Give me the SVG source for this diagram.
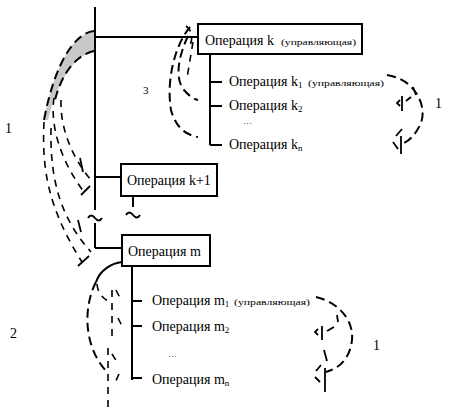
<svg xmlns="http://www.w3.org/2000/svg" width="450" height="408" viewBox="0 0 450 408">
<style>
.ln{stroke:#000;stroke-width:2;fill:none}
.box{fill:#fff;stroke:#000;stroke-width:2}
.t{font-family:"Liberation Serif","Times New Roman",serif;font-size:14px;fill:#000}
.s{font-family:"Liberation Serif","Times New Roman",serif;font-size:9px;fill:#000}
.sub{font-family:"Liberation Serif","Times New Roman",serif;font-size:9px;fill:#000}
.d{stroke:#000;stroke-width:2;fill:none;stroke-dasharray:9 5}
.d2{stroke:#000;stroke-width:1.6;fill:none;stroke-dasharray:7 6}
.sol{stroke:#000;stroke-width:2;fill:none}
.tk{stroke:#000;stroke-width:1.8;fill:none}
</style>
<rect width="450" height="408" fill="#fff"/>
<g id="connectors">
<path class="ln" d="M95,7 V210 M95,223 V248 M95,37 H198 M95,177 H121 M95,248 H122 M210,54 V145 M210,82 H222 M210,106 H222 M210,145 H222 M133,196 V207 M132,266 V380 M132,301 H142 M132,326 H142 M132,378 H142"/>
<path class="sol" d="M88,218 q3,-5 7,0 t7,0 M126,215 q3,-5 7,0 t7,0" stroke-width="1.8"/>
<path d="M94,31 C75,33 55,62 44,120 L48,120 C57,85 72,56 94,51 Z" fill="#c8c8c8"/>
<path class="d" d="M94,31 C75,33 55,62 44,120" stroke-dasharray="20 3 14 4"/>
<path class="d" d="M94,51 C72,56 60,80 55,100" stroke-dasharray="18 4"/>
<path class="d2" d="M54,98 C50,125 60,160 84,192"/>
<path class="d2" d="M61,100 C60,125 70,155 91,180"/>
<path class="tk" d="M80,158 L83,172 M81,195 L90,186"/>
<path class="d2" d="M44,122 C42,165 46,205 82,262"/>
<path class="d2" d="M51,128 C50,175 58,215 91,252"/>
<path class="tk" d="M78,220 L81,232 M78,266 L89,256"/>
<path class="d" d="M190,27 C175,45 166,80 171,110 C176,128 186,135 198,137" stroke-dasharray="10 4"/>
<path class="d" d="M188,36 C179,55 174,78 184,90 C189,96 194,99 198,100" stroke-dasharray="8 4"/>
<path class="d2" d="M193,42 L187,78"/>
<path class="d2" d="M186,26 C193,31 193,40 189,48"/>
<path class="d" d="M387,75 C418,80 428,110 420,125 C415,135 410,140 404,143" stroke-dasharray="12 4"/>
<path class="tk" d="M413,87 L416,95 M400,100 L397,103 L400,106 M402,96 V111 M406,101 L411,97 M401,136 V154 M396,136 L402,129 M393,142 L398,149"/>
<path class="d" d="M316,297 C338,302 354,320 352,340 C350,358 340,368 326,372" stroke-dasharray="12 4"/>
<path class="tk" d="M337,315 L338,322 M318,329 L315,332 L318,335 M322,326 V340 M327,331 L334,327 M324,350 L327,361 M316,371 L321,365 M315,377 L320,382 M325,368 V392"/>
<path class="sol" d="M122,262 C112,263 100,270 96,282" stroke-width="2.5"/>
<path class="d" d="M96,282 C84,305 82,345 107,372" stroke-dasharray="10 4"/>
<path class="d2" d="M97,284 C98,295 104,299 112,303"/>
<path class="d2" d="M112,290 V338 M116,290 L121,300 M118,318 L122,326"/>
<path class="d2" d="M108,348 V408 M112,354 L117,362 M119,374 L114,385"/>
</g>
<g id="node-k">
<rect class="box" x="198" y="24" width="164" height="30"/>
<text class="t" x="205" y="45">Операция k</text>
<text class="s" x="281" y="45" textLength="75" lengthAdjust="spacingAndGlyphs">(управляющая)</text>
</g>
<g id="node-k1">
<text class="t" x="229" y="86">Операция k<tspan class="sub" dy="2">1</tspan></text>
<text class="s" x="308" y="86" textLength="76" lengthAdjust="spacingAndGlyphs">(управляющая)</text>
</g>
<g id="node-k2">
<text class="t" x="229" y="110">Операция k<tspan class="sub" dy="2">2</tspan></text>
</g>
<text class="s" x="243" y="124">…</text>
<g id="node-kn">
<text class="t" x="229" y="149">Операция k<tspan class="sub" dy="2">n</tspan></text>
</g>
<g id="node-k-plus-1">
<rect class="box" x="121" y="164" width="96" height="32"/>
<text class="t" x="127" y="185">Операция k+1</text>
</g>
<g id="node-m">
<rect class="box" x="122" y="235" width="88" height="31"/>
<text class="t" x="128" y="256">Операция m</text>
</g>
<g id="node-m1">
<text class="t" x="152" y="305">Операция m<tspan class="sub" dy="2">1</tspan></text>
<text class="s" x="234" y="305" textLength="76" lengthAdjust="spacingAndGlyphs">(управляющая)</text>
</g>
<g id="node-m2">
<text class="t" x="152" y="331">Операция m<tspan class="sub" dy="2">2</tspan></text>
</g>
<text class="s" x="168" y="357">…</text>
<g id="node-mn">
<text class="t" x="152" y="384">Операция m<tspan class="sub" dy="2">n</tspan></text>
</g>
<g id="labels">
<text class="t" x="5" y="133">1</text>
<text class="t" x="143" y="94" fill="#888" style="font-size:11px">3</text>
<text class="t" x="435" y="108">1</text>
<text class="t" x="10" y="338">2</text>
<text class="t" x="373" y="350">1</text>
</g>
</svg>
